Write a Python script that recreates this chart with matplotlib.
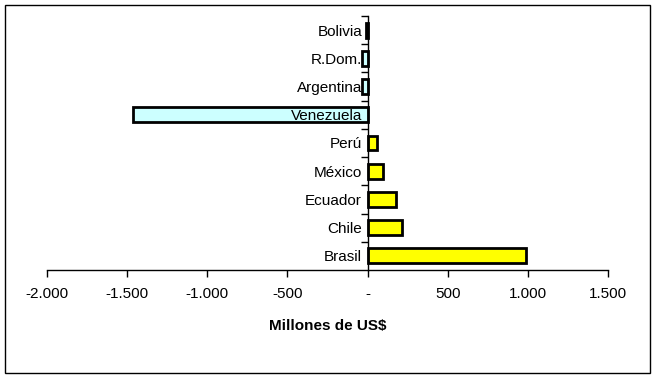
import matplotlib
matplotlib.use("Agg")
import matplotlib.pyplot as plt
from matplotlib.ticker import FixedLocator, FuncFormatter
from matplotlib.patches import Rectangle

categories = ["Brasil", "Chile", "Ecuador", "México", "Perú",
              "Venezuela", "Argentina", "R.Dom.", "Bolivia"]
values = [990, 212, 175, 94, 58, -1461, -37, -37, -10]
xticks = [-2000, -1500, -1000, -500, 0, 500, 1000, 1500]

plt.rcParams['font.family'] = ['Liberation Sans', 'DejaVu Sans']

W, H = 655, 377
fig = plt.figure(figsize=(W / 100, H / 100), dpi=100)
ax = fig.add_axes([47 / W, 1 - 270 / H, (608 - 47) / W, (270 - 16) / H])

colors = ["#FFFF00" if v >= 0 else "#CCFFFF" for v in values]
ypos = list(range(len(categories)))
ax.barh(ypos, values, height=0.53, color=colors, edgecolor="black",
        linewidth=2, zorder=2)

ax.set_xlim(-2000, 1500)
ax.set_ylim(-0.5, len(categories) - 0.5)

def fmt(v, pos):
    if v == 0:
        return "-"
    s = f"{abs(int(v)):,}".replace(",", ".")
    return ("-" if v < 0 else "") + s

ax.xaxis.set_major_locator(FixedLocator(xticks))
ax.xaxis.set_major_formatter(FuncFormatter(fmt))
ax.tick_params(axis="x", direction="out", length=5, width=1, pad=7,
               labelsize=11)

for s in ["top", "right"]:
    ax.spines[s].set_visible(False)
ax.spines["left"].set_position(("data", 0))
ax.spines["left"].set_zorder(3)
ax.spines["bottom"].set_linewidth(1)
ax.spines["left"].set_linewidth(1)

ax.set_yticks(ypos)
ax.set_yticklabels(categories)
ax.tick_params(axis="y", which="major", length=0, pad=4, labelsize=11)
ax.set_yticks([y + 0.5 for y in ypos], minor=True)
ax.tick_params(axis="y", which="minor", direction="out", length=5, width=1)
ax.yaxis.set_zorder(5)
ax.xaxis.set_zorder(5)

ax.set_xlabel("Millones de US$", fontsize=11, fontweight="bold", labelpad=13)

fig.patches.append(Rectangle((5 / W, 1 - 373 / H), 645 / W, 368 / H,
                             transform=fig.transFigure, fill=False,
                             edgecolor="black", linewidth=1))

fig.savefig("out.png", dpi=100)
